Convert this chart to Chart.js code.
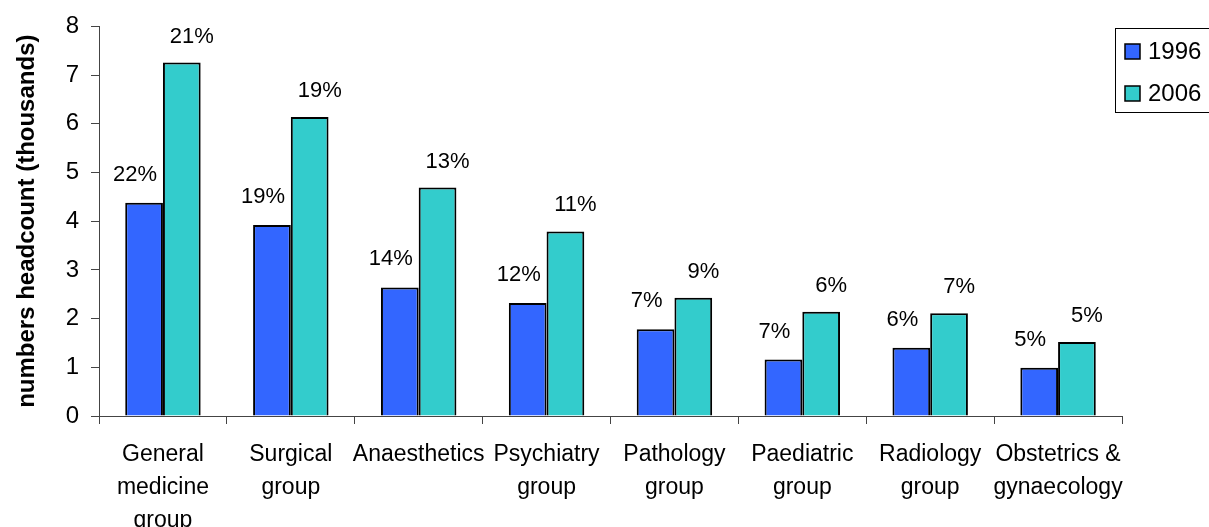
<!DOCTYPE html>
<html><head><meta charset="utf-8">
<script src="https://cdn.jsdelivr.net/npm/chart.js@4.4.1/dist/chart.umd.min.js"></script>
<style>html,body{margin:0;padding:0;background:#fff}#wrap{width:1209px;height:527px;position:relative}</style>
</head><body><div id="wrap"><canvas id="c" width="1209" height="527"></canvas></div>
<script>
const categories = [["General","medicine","group"],["Surgical","group"],["Anaesthetics"],["Psychiatry","group"],["Pathology","group"],["Paediatric","group"],["Radiology","group"],["Obstetrics &","gynaecology"]];
const seriesNames = ["1996","2006"];
const values1996 = [4.38,3.92,2.64,2.32,1.78,1.16,1.40,0.99];
const values2006 = [7.26,6.14,4.69,3.79,2.43,2.14,2.11,1.52];
const pct1996 = ["22%","19%","14%","12%","7%","7%","6%","5%"];
const pct2006 = ["21%","19%","13%","11%","9%","6%","7%","5%"];
const yTickValues = [0,1,2,3,4,5,6,7,8];
const yTitle = "numbers headcount (thousands)";

const FONT = "'Liberation Sans', Arial, sans-serif";

const labelPlugin = {
  id: 'pctLabels',
  afterDatasetsDraw(chart) {
    const ctx = chart.ctx;
    const sets = [pct1996, pct2006];
    const dx = [-9, 10];
    const dy = [28, 26];
    ctx.save();
    ctx.font = "22px " + FONT;
    ctx.fillStyle = "#000";
    ctx.textAlign = "center";
    ctx.textBaseline = "middle";
    chart.data.datasets.forEach((ds, i) => {
      const meta = chart.getDatasetMeta(i);
      meta.data.forEach((el, j) => {
        ctx.fillText(sets[i][j], el.x + dx[i], el.y - dy[i]);
      });
    });
    ctx.restore();
  }
};

const legendPlugin = {
  id: 'boxLegend',
  afterDraw(chart) {
    const ctx = chart.ctx;
    ctx.save();
    ctx.strokeStyle = "#000";
    ctx.lineWidth = 1;
    ctx.strokeRect(1115.5, 28.5, 110, 84);
    ctx.font = "24px " + FONT;
    ctx.textAlign = "left";
    ctx.textBaseline = "middle";
    chart.data.datasets.forEach((ds, i) => {
      const y = 44 + i * 42;
      ctx.fillStyle = ds.backgroundColor;
      ctx.fillRect(1125, y, 15, 15);
      ctx.lineWidth = 1.5;
      ctx.strokeRect(1125, y, 15, 15);
      ctx.fillStyle = "#000";
      ctx.fillText(ds.label, 1148, y + 8);
    });
    ctx.restore();
  }
};

new Chart(document.getElementById('c'), {
  type: 'bar',
  data: {
    labels: categories,
    datasets: [
      { label: seriesNames[0], data: values1996, backgroundColor: '#3366FF', borderColor: '#000', borderWidth: 2 },
      { label: seriesNames[1], data: values2006, backgroundColor: '#33CCCC', borderColor: '#000', borderWidth: 2 }
    ]
  },
  options: {
    responsive: false,
    animation: false,
    devicePixelRatio: 1,
    layout: { padding: { left: 0, right: 87, top: 26, bottom: 0 } },
    plugins: { legend: { display: false }, tooltip: { enabled: false } },
    datasets: { bar: { categoryPercentage: 0.59, barPercentage: 1.0 } },
    scales: {
      x: {
        grid: { display: true, offset: true, drawOnChartArea: false, drawTicks: true, tickLength: 8, color: '#444' },
        border: { display: true, color: '#444', width: 1 },
        ticks: { color: '#000', font: { family: FONT, size: 23, lineHeight: 1.43 }, padding: 14, maxRotation: 0, minRotation: 0, autoSkip: false },
        afterFit(s) { s.height = 111; }
      },
      y: {
        min: 0, max: 8,
        afterBuildTicks(s) { s.ticks = yTickValues.map(v => ({ value: v })); },
        grid: { display: true, drawOnChartArea: false, drawTicks: true, tickLength: 8, color: '#444' },
        border: { display: true, color: '#444', width: 1 },
        ticks: { color: '#000', font: { family: FONT, size: 24 }, padding: 12 },
        title: { display: true, text: yTitle, color: '#000', font: { family: FONT, size: 24, weight: 'bold' }, padding: { top: 13, bottom: 0 } },
        afterFit(s) { s.width = 99; }
      }
    }
  },
  plugins: [labelPlugin, legendPlugin]
});
</script></body></html>
